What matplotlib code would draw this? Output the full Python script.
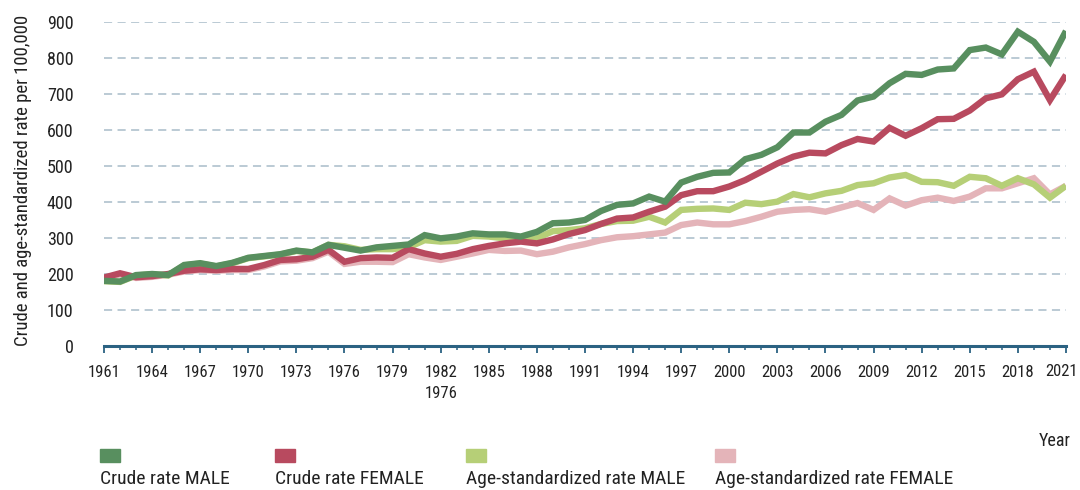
import matplotlib
matplotlib.use("Agg")
import matplotlib.pyplot as plt
from matplotlib.patches import Rectangle
from matplotlib.ticker import MultipleLocator

plt.rcParams['font.family'] = ['Roboto Condensed', 'Barlow Condensed', 'PT Sans Narrow',
                               'IBM Plex Sans Condensed', 'DejaVu Sans']

years = list(range(1961, 2022))

crude_male = [181, 179, 197, 200, 197, 225, 230, 222, 231, 245,
              250, 255, 265, 260, 281, 273, 265, 274, 278, 282,
              308, 299, 304, 313, 310, 310, 304, 317, 341, 343,
              350, 375, 392, 396, 415, 401, 454, 470, 481, 482,
              519, 531, 552, 593, 593, 623, 642, 682, 693, 730,
              756, 753, 768, 771, 822, 829, 810, 873, 845, 790, 875]
crude_female = [190, 202, 191, 194, 200, 209, 213, 211, 214, 214,
                225, 239, 241, 248, 267, 234, 244, 246, 245, 269,
                257, 248, 256, 269, 278, 285, 290, 285, 296, 311,
                322, 339, 354, 357, 373, 387, 419, 430, 430, 443,
                461, 484, 507, 526, 537, 535, 558, 575, 568, 606,
                584, 605, 630, 631, 654, 688, 699, 741, 762, 683, 753]
age_male = [180, 178, 196, 199, 196, 224, 229, 221, 230, 244,
            249, 254, 264, 260, 281, 277, 267, 269, 269, 274,
            294, 290, 292, 306, 304, 299, 296, 299, 319, 322,
            327, 339, 347, 348, 359, 343, 378, 381, 382, 378,
            398, 394, 401, 422, 413, 424, 431, 447, 452, 468,
            475, 456, 455, 445, 470, 466, 445, 466, 449, 412, 445]
age_female = [188, 199, 189, 192, 198, 207, 211, 209, 211, 211,
              221, 235, 237, 244, 262, 228, 234, 234, 233, 255,
              246, 239, 248, 257, 267, 264, 265, 255, 262, 274,
              283, 294, 302, 305, 310, 315, 336, 343, 338, 338,
              347, 359, 373, 378, 380, 373, 385, 397, 378, 410,
              390, 405, 412, 403, 415, 438, 438, 452, 466, 421, 445]

series_names = ["Crude rate MALE", "Crude rate FEMALE",
                "Age-standardized rate MALE", "Age-standardized rate FEMALE"]
series_values = [crude_male, crude_female, age_male, age_female]
colors = ["#588f5f", "#b84a5f", "#b6cf77", "#e4b4b9"]

fig = plt.figure(figsize=(10.8, 4.9), dpi=100)
ax = fig.add_axes([0.0963, 0.2939, 0.8907, 0.6612])

# draw age-standardized first so crude rates sit on top
for i in [3, 2, 1, 0]:
    ax.plot(years, series_values[i], color=colors[i], lw=4.6,
            solid_joinstyle='miter', solid_capstyle='butt', zorder=3 + (3 - i))

ax.set_xlim(1961, 2021)
ax.set_ylim(0, 900)

ax.yaxis.set_major_locator(MultipleLocator(100))
ax.yaxis.grid(True, color="#b5c6d1", lw=1.3, linestyle=(0, (4.5, 3)))
ax.set_axisbelow(True)
for sp in ["left", "right", "top"]:
    ax.spines[sp].set_visible(False)
ax.spines["bottom"].set_color("#2b6282")
ax.spines["bottom"].set_linewidth(2.2)
ax.spines["bottom"].set_zorder(10)

# last year label is drawn separately, nudged in from the figure edge
xt = years[::3]
ax.set_xticks(xt)
ax.set_xticklabels([str(y) for y in xt[:-1]] + [""])
ax.annotate(str(xt[-1]), xy=(xt[-1], 0), xycoords=("data", "axes fraction"),
            xytext=(-3, -13), textcoords="offset points", ha="center", va="top",
            fontsize=12, color="#222222", annotation_clip=False)
ax.xaxis.set_minor_locator(MultipleLocator(1))
ax.tick_params(axis="x", which="major", length=5, width=1.3, color="#2b6282",
               labelsize=12, pad=9, labelcolor="#222222")
ax.tick_params(axis="x", which="minor", length=3, width=1.1, color="#2b6282")
ax.tick_params(axis="y", length=0, labelsize=13, pad=22, labelcolor="#222222")
for lab in ax.get_yticklabels():
    lab.set_horizontalalignment("right")

ax.set_ylabel("Crude and age-standardized rate per 100,000", fontsize=13.5,
              color="#222222")
ax.yaxis.set_label_coords(-0.075, 0.51)

# stray label under 1982
ax.text(1982, -0.148, "1976", transform=ax.get_xaxis_transform(),
        ha="center", va="center", fontsize=12, color="#222222")

fig.text(1055 / 1080, 1 - 441 / 490, "Year", ha="center", va="center",
         fontsize=13, color="#222222")

# legend: swatch above each label
legend_x = [100, 275, 466, 715]
for x0, name, c in zip(legend_x, series_names, colors):
    fig.patches.append(Rectangle((x0 / 1080, 1 - 462 / 490), 20 / 1080, 13 / 490,
                                 transform=fig.transFigure, color=c))
    fig.text(x0 / 1080, 1 - 479 / 490, name, ha="left", va="center",
             fontsize=14, color="#222222")

fig.savefig("out.png", dpi=100)
